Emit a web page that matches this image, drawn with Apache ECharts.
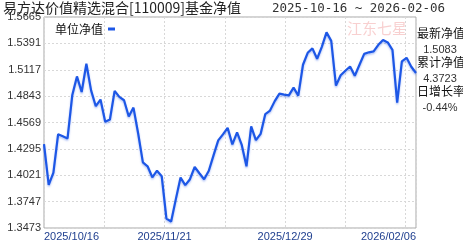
<!DOCTYPE html>
<html><head><meta charset="utf-8">
<script src="https://cdn.jsdelivr.net/npm/echarts@6/dist/echarts.min.js"></script>
<style>html,body{margin:0;padding:0;background:#fff}#c{width:463px;height:242px}</style>
</head><body><div id="c"></div>
<script>
const dates = ['2025-10-16','2025-10-17','2025-10-20','2025-10-21','2025-10-22','2025-10-23','2025-10-24','2025-10-27','2025-10-28','2025-10-29','2025-10-30','2025-10-31',
'2025-11-03','2025-11-04','2025-11-05','2025-11-06','2025-11-07','2025-11-10','2025-11-11','2025-11-12','2025-11-13','2025-11-14','2025-11-17','2025-11-18','2025-11-19','2025-11-20','2025-11-21','2025-11-24','2025-11-25','2025-11-26','2025-11-27','2025-11-28',
'2025-12-01','2025-12-02','2025-12-03','2025-12-04','2025-12-05','2025-12-08','2025-12-09','2025-12-10','2025-12-11','2025-12-12','2025-12-15','2025-12-16','2025-12-17','2025-12-18','2025-12-19','2025-12-22','2025-12-23','2025-12-24','2025-12-25','2025-12-26','2025-12-29','2025-12-30','2025-12-31',
'2026-01-05','2026-01-06','2026-01-07','2026-01-08','2026-01-09','2026-01-12','2026-01-13','2026-01-14','2026-01-15','2026-01-16','2026-01-19','2026-01-20','2026-01-21','2026-01-22','2026-01-23','2026-01-26','2026-01-27','2026-01-28','2026-01-29','2026-01-30',
'2026-02-02','2026-02-03','2026-02-04','2026-02-05','2026-02-06'];
const nav = [1.4345,1.3921,1.4049,1.4448,1.4427,1.4404,1.4851,1.5048,1.4886,1.5179,1.4903,1.4738,
1.4807,1.4576,1.4600,1.4897,1.4835,1.4800,1.4631,1.4724,1.4455,1.4155,1.4114,1.4000,1.4068,1.4011,1.3571,1.3540,1.3773,1.3997,1.3918,1.3980,
1.4109,1.4042,1.3980,1.4068,1.4228,1.4383,1.4445,1.4514,1.4342,1.4466,1.4336,1.4114,1.4528,1.4386,1.4450,1.4657,1.4693,1.4791,1.4869,1.4858,1.4851,1.4931,1.4848,
1.5169,1.5293,1.5339,1.5231,1.5355,1.5505,1.5417,1.4952,1.5060,1.5107,1.5151,1.5055,1.5169,1.5282,1.5298,1.5308,1.5376,1.5427,1.5401,1.5324,
1.4776,1.5205,1.5241,1.5148,1.5083];
const yTicks = ['1.3473','1.3747','1.4021','1.4295','1.4569','1.4843','1.5117','1.5391','1.5665'];
const xTicks = ['2025/10/16','2025/11/21','2025/12/29','2026/02/06'];
const title = '易方达价值精选混合[110009]基金净值';
const range = '2025-10-16 ~ 2026-02-06';
const seriesName = '单位净值';
const infoLabels = ['最新净值','累计净值','日增长率'];
const infoValues = ['1.5083','4.3723','-0.44%'];

const chart = echarts.init(document.getElementById('c'), null, {renderer:'canvas'});
const last = dates.length - 1;
const dotted = {show:true, lineStyle:{color:'#d8d8d8', type:[2,2], width:1}};
const info = [];
infoLabels.forEach((t,i)=>{
  info.push({type:'text', left:417, top:27+i*29, style:{text:t, font:'12px "Noto Sans CJK SC"', fill:'#111'}});
  info.push({type:'text', x:440, y:44+i*29, style:{text:infoValues[i], font:'11px "Liberation Sans"', fill:'#333', align:'center'}});
});
chart.setOption({
  animation:false,
  grid:{left:44, right:47, top:17, bottom:13, show:true, borderColor:'#a8a8a8', borderWidth:1},
  legend:{show:true, left:50, top:18, align:'right', itemWidth:7, itemHeight:3, itemGap:4,
    icon:'rect', textStyle:{fontSize:12, color:'#111', fontFamily:'Noto Sans CJK SC', padding:[0,0,0,0]},
    data:[{name:seriesName, itemStyle:{color:'#1d57e6'}}]},
  xAxis:[
    {type:'category', data:dates, boundaryGap:false, show:false},
    {type:'value', min:0, max:last, interval:12.8, position:'bottom',
      axisLine:{show:false}, axisTick:{show:false}, splitLine:dotted,
      axisLabel:{show:true, margin:3, color:'#1f3f8f', fontSize:11, fontFamily:'Liberation Sans',
        showMinLabel:true, showMaxLabel:true, alignMinLabel:'left', alignMaxLabel:'right',
        formatter:(v,i)=>{ if(v===last) return xTicks[3]; if(i===0) return xTicks[0]; if(i===2) return xTicks[1]; if(i===4) return xTicks[2]; return ''; }}}
  ],
  yAxis:[
    {type:'value', min:1.3473, max:1.5665, show:false},
    {type:'value', min:0, max:8, interval:1, position:'left',
      axisLine:{show:false}, axisTick:{show:false}, splitLine:dotted,
      axisLabel:{margin:3, color:'#333', fontSize:11, fontFamily:'Liberation Sans', formatter:v=>yTicks[v]}}
  ],
  graphic:[
    {type:'text', left:3, top:1, style:{text:title, font:'14px "Noto Sans CJK SC"', fill:'#222'}},
    {type:'text', left:272, top:2, style:{text:range, font:'12.5px "DejaVu Sans Mono"', fill:'#333'}},
    {type:'text', left:347, top:21, z:0, style:{text:'江东七星', font:'15px "Noto Sans CJK SC"', fill:'rgba(240,150,150,0.45)'}}
  ].concat(info),
  series:[{name:seriesName, type:'line', xAxisIndex:0, yAxisIndex:0, data:nav, showSymbol:false,
    lineStyle:{color:'#1d57e6', width:2.2, shadowColor:'rgba(30,80,230,0.35)', shadowBlur:2, shadowOffsetY:1.5},
    itemStyle:{color:'#1d57e6'}}]
});
</script></body></html>
